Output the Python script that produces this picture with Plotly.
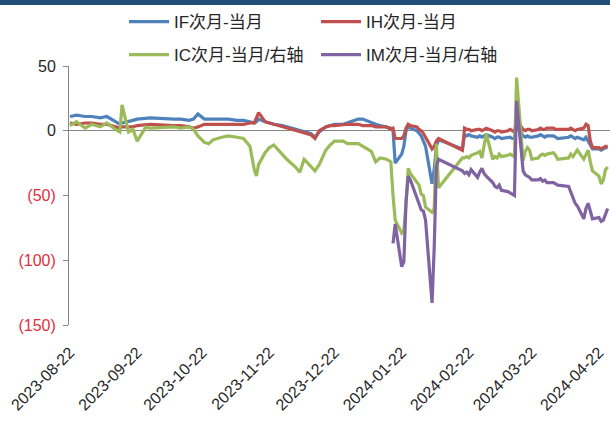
import plotly.graph_objects as go

dates = [
    "2023-08-22","2023-08-25","2023-08-29","2023-09-01","2023-09-05","2023-09-08","2023-09-12","2023-09-14","2023-09-15","2023-09-18","2023-09-20","2023-09-22","2023-09-26","2023-09-28",
    "2023-10-09","2023-10-12","2023-10-16","2023-10-18","2023-10-20","2023-10-23","2023-10-25","2023-10-27","2023-10-31",
    "2023-11-03","2023-11-07","2023-11-10","2023-11-13","2023-11-15","2023-11-16","2023-11-17","2023-11-20","2023-11-22","2023-11-24","2023-11-28","2023-11-30",
    "2023-12-04","2023-12-06","2023-12-08","2023-12-11","2023-12-13","2023-12-15","2023-12-18","2023-12-20","2023-12-22","2023-12-26","2023-12-28",
    "2024-01-02","2024-01-04","2024-01-08","2024-01-10","2024-01-12","2024-01-15","2024-01-17","2024-01-18","2024-01-19","2024-01-22","2024-01-23","2024-01-24","2024-01-25","2024-01-26","2024-01-29","2024-01-30","2024-01-31",
    "2024-02-01","2024-02-02","2024-02-05","2024-02-06","2024-02-07","2024-02-08","2024-02-19","2024-02-20","2024-02-21","2024-02-22","2024-02-23","2024-02-26","2024-02-27","2024-02-28","2024-02-29",
    "2024-03-01","2024-03-04","2024-03-05","2024-03-06","2024-03-07","2024-03-08","2024-03-11","2024-03-12","2024-03-13","2024-03-14","2024-03-15","2024-03-18","2024-03-19","2024-03-20","2024-03-21","2024-03-22","2024-03-25","2024-03-26","2024-03-27","2024-03-28","2024-03-29",
    "2024-04-01","2024-04-02","2024-04-03","2024-04-08","2024-04-09","2024-04-10","2024-04-11","2024-04-12","2024-04-15","2024-04-16","2024-04-17","2024-04-18","2024-04-19","2024-04-22","2024-04-23","2024-04-24","2024-04-25","2024-04-26",
]

if_spread = [
    11, 12, 11, 11, 10, 11, 7, 5, 6, 7, 8, 9, 10, 10,
    9, 9, 8, 9, 13, 9, 9, 9, 9,
    9, 8, 8, 7, 6, 7, 9, 7, 6, 5, 4, 3,
    1, 0, -1, -2, -5, -1, 3, 4, 5, 5, 6,
    9, 9, 6, 5, 4, 3, 2, 0, -25, -18, -12, 0, 3, 2, 0, -2, -4,
    -8, -12, -41, -30, -12, -7, -14, -3, -4, -3, -4, -5, -4, -5, -4,
    -3, -5, -6, -5, -5, -6, -5, -5, -6, -6, 5, -4, -5, -4, -5, -5, -4, -3, -4, -5, -4,
    -4, -5, -6, -5, -4, -5, -6, -5, -7, -5, -8, -12, -14, -14, -15, -14, -13, -13,
]

ih_spread = [
    6, 5, 6, 6, 5, 5, 3, 2, 3, 3, 3, 4, 5, 5,
    4, 4, 3, 2, 3, 5, 5, 5, 5,
    5, 5, 5, 6, 6, 10, 14, 7, 6, 5, 3, 2,
    0, -1, -2, -3, -6, 0, 3, 4, 4, 5, 5,
    5, 4, 4, 3, 3, 3, 1, 2, -6, -6, -4, 2, 5, 4, 3, 1, 0,
    -2, -5, -14, -12, -8, -6, -15, 2, 1, 1, 0, 1, 1, 0, 1,
    2, 0, -1, 0, 0, -1, 0, 1, 0, -1, 8, 1, 0, 1, 1, 0, 1, 2, 1, 1, 2,
    2, 1, 1, 1, 2, 1, 0, 1, 2, 5, 4, -8, -13, -13, -14, -13, -12, -12,
]

ic_spread = [
    4, 7, 2, 5, 3, 6, 1, -1, 20, -1, 1, -8, 3, 2,
    3, 2, 3, 1, -4, -9, -10, -7, -5,
    -4, -5, -6, -12, -30, -35, -26, -17, -13, -11, -18, -22,
    -28, -32, -22, -27, -31, -26, -15, -11, -8, -8, -10,
    -10, -12, -16, -24, -21, -22, -24, -50, -69, -79, -77, -56, -29, -33, -40, -42, -49,
    -50, -59, -63, -60, -10, -44, -21, -21, -20, -21, -19, -17, -16, -21, -10,
    -2, -22, -20, -21, -18, -20, -19, -18, -19, -20, 41, -23, -16, -13, -15, -22, -21, -19, -18, -19, -18,
    -17, -19, -22, -21, -18, -20, -17, -15, -22, -18, -15, -24, -31, -35, -41, -38, -30, -28,
]

im_spread = [None] * 53 + [
    -87, -72, -105, -101, -55, -35, -38, -52, -57, -61,
    -62, -69, -133, -90, -28, -22, -31, -33, -32, -34, -30, -36, -32, -29, -33,
    -35, -40, -43, -44, -42, -46, -47, -48, -49, -50, 23, -31, -34, -35, -36, -38, -38, -37, -39, -38, -40,
    -40, -41, -42, -43, -47, -52, -56, -58, -68, -60, -56, -62, -68, -67, -70, -69, -64, -60,
]

series_names = ["IF次月-当月", "IH次月-当月", "IC次月-当月/右轴", "IM次月-当月/右轴"]
series_colors = ["#4F81BD", "#C0504D", "#9BBB59", "#8064A2"]

x_tickvals = ["2023-08-22", "2023-09-22", "2023-10-22", "2023-11-22", "2023-12-22",
              "2024-01-22", "2024-02-22", "2024-03-22", "2024-04-22"]
y_tickvals = [50, 0, -50, -100, -150]
y_ticklabels = ["50", "0", "(50)", "(100)", "(150)"]
neg_color = "#E0303C"
y_ticktext = [t if t[0] != "(" else f'<span style="color:{neg_color}">{t}</span>' for t in y_ticklabels]

FONT = "Liberation Sans, Arial, Noto Sans CJK SC, sans-serif"

fig = go.Figure()
data = [if_spread, ih_spread, ic_spread, im_spread]
for i, (name, vals, col) in enumerate(zip(series_names, data, series_colors)):
    fig.add_trace(go.Scatter(
        x=dates, y=vals, name=name, mode="lines",
        line=dict(color=col, width=3.2),
        yaxis="y" if i < 2 else "y2",
        legend="legend" if i < 2 else "legend2",
    ))

W, H = 610, 427
ml, mr, mt, mb = 69, 0, 66, 102
ph = H - mt - mb

legend_common = dict(
    orientation="h", xref="container", yref="container",
    xanchor="left", yanchor="middle",
    entrywidth=137, entrywidthmode="pixels", itemwidth=40,
    font=dict(family=FONT, size=17, color="#262626"),
    bgcolor="rgba(0,0,0,0)", traceorder="normal",
)

fig.update_layout(
    width=W, height=H,
    margin=dict(l=ml, r=mr, t=mt, b=mb, autoexpand=False),
    paper_bgcolor="white", plot_bgcolor="white",
    font=dict(family=FONT, size=16, color="#262626"),
    xaxis=dict(
        type="date",
        range=["2023-08-21 13:00", "2024-04-27 02:00"],
        tickvals=x_tickvals, tickformat="%Y-%m-%d", tickangle=-45,
        ticks="", ticklabelstandoff=14,
        showgrid=False, showline=False, zeroline=False,
        tickfont=dict(size=16, color="#262626"),
        automargin=False,
    ),
    yaxis=dict(
        range=[-150, 50], tickvals=y_tickvals, ticktext=y_ticktext,
        ticks="outside", ticklen=5, tickcolor="#868686",
        showline=True, linecolor="#868686", linewidth=1,
        showgrid=False, zeroline=True, zerolinecolor="#868686", zerolinewidth=1,
        ticklabelstandoff=4,
        tickfont=dict(size=16, color="#262626"),
        automargin=False,
    ),
    yaxis2=dict(
        range=[-150, 50], overlaying="y", side="right", visible=False,
    ),
    showlegend=True,
    legend=dict(legend_common, x=124 / W, y=1 - 22 / H),
    legend2=dict(legend_common, x=124 / W, y=1 - 55 / H),
    shapes=[dict(
        type="rect", xref="paper", yref="paper",
        x0=-ml / (W - ml - mr), x1=1.0,
        y0=1 + (mt - 5) / ph, y1=1 + mt / ph,
        fillcolor="#1F4E79", line=dict(width=0), layer="above",
    )],
)

fig.write_html("out.html", config={"displayModeBar": False},
               post_script="document.body.style.margin='0';")
